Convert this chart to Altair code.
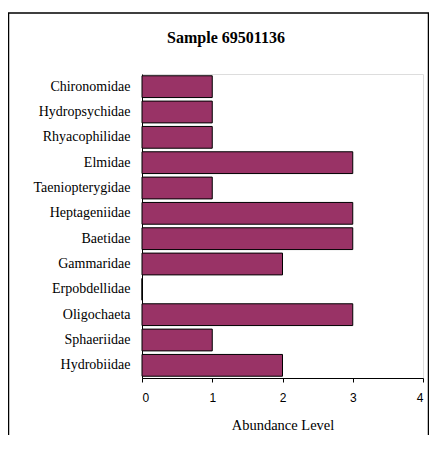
import altair as alt
import pandas as pd

families = ["Chironomidae", "Hydropsychidae", "Rhyacophilidae", "Elmidae",
            "Taeniopterygidae", "Heptageniidae", "Baetidae", "Gammaridae",
            "Erpobdellidae", "Oligochaeta", "Sphaeriidae", "Hydrobiidae"]
abundance = [1, 1, 1, 3, 1, 3, 3, 2, 0, 3, 1, 2]
x_ticks = [0, 1, 2, 3, 4]
title_text = "Sample 69501136"

df = pd.DataFrame({"family": families, "level": abundance})
one = pd.DataFrame({"title": [title_text]})

W, H = 281, 304
PL, PT, PR, PB = 134, 66, 6, 57

bars = alt.Chart(df).mark_bar(color="#993366", stroke="#000", strokeWidth=1).encode(
    y=alt.Y("family:N", sort=families,
            scale=alt.Scale(paddingInner=0.14, paddingOuter=0.07),
            axis=alt.Axis(title=None, ticks=False, labelPadding=12, domain=True,
                          domainColor="#000", labelFont="Liberation Serif",
                          labelFontSize=14, labelColor="#000")),
    x=alt.X("level:Q", scale=alt.Scale(domain=[0, 4], nice=False),
            axis=alt.Axis(title="Abundance Level", values=x_ticks, grid=False,
                          tickSize=4, tickColor="#000", domainColor="#000",
                          labelFont="Liberation Sans", labelFontSize=12,
                          labelColor="#000", labelPadding=10,
                          titleFont="Liberation Serif", titleFontSize=14.5,
                          titleFontWeight="normal", titleColor="#000",
                          titlePadding=15)),
)

frame = alt.Chart(one).mark_rect(fill=None, stroke="#000", strokeWidth=1.5).encode(
    x=alt.value(-133.5), x2=alt.value(W + PR - 0.5), y=alt.value(-61), y2=alt.value(420)
)

title = alt.Chart(one).mark_text(
    font="Liberation Serif", fontSize=16, fontWeight="bold",
    color="#000", align="center", baseline="middle"
).encode(text="title:N", x=alt.value(84), y=alt.value(-36))

chart = alt.layer(frame, bars, title).properties(
    width=W, height=H,
    autosize=alt.AutoSizeParams(type="none"),
    padding={"left": PL, "top": PT, "right": PR, "bottom": PB},
).configure_view(stroke="#333", strokeWidth=1).configure(background="#fff")

chart.save("out.html", embed_options={"renderer": "svg", "actions": False})
